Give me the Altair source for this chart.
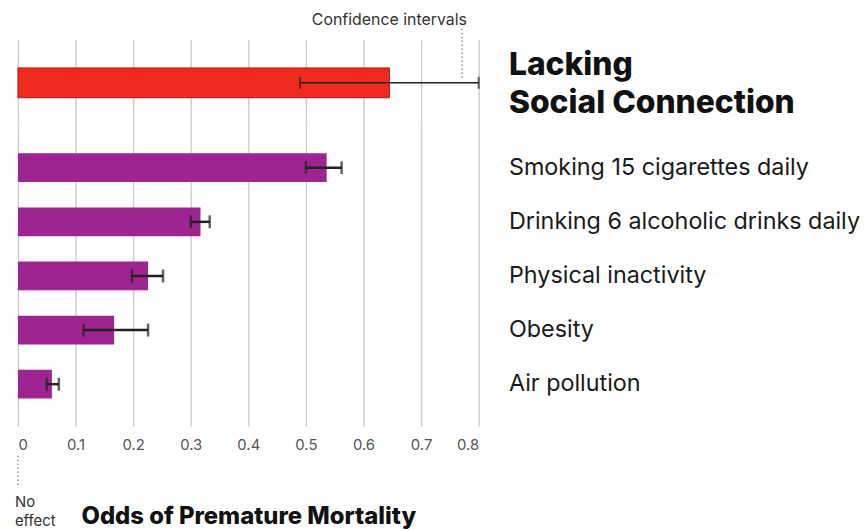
import altair as alt
import pandas as pd

# Data
top_label = ["Lacking|Social Connection"]
top_value = [0.645]
top_lo = [0.49]
top_hi = [0.80]

factors = ["Smoking 15 cigarettes daily", "Drinking 6 alcoholic drinks daily",
           "Physical inactivity", "Obesity", "Air pollution"]
values = [0.536, 0.317, 0.226, 0.167, 0.059]
ci_lo = [0.50, 0.30, 0.198, 0.114, 0.050]
ci_hi = [0.562, 0.333, 0.252, 0.226, 0.071]

ticks = [0, 0.1, 0.2, 0.3, 0.4, 0.5, 0.6, 0.7, 0.8]

FONT = "Inter"
W = 464
H_TOP = 87
H_BOT = 302
xscale = alt.Scale(domain=[0, 0.8], nice=False, zero=True)

top_df = pd.DataFrame({"label": top_label, "value": top_value, "lo": top_lo, "hi": top_hi})
bot_df = pd.DataFrame({"label": factors, "value": values, "lo": ci_lo, "hi": ci_hi})

x_hidden = alt.Axis(values=ticks, labels=False, ticks=False, domain=False, title=None,
                    grid=True, gridColor="#cfcfcf", gridWidth=1.5, minExtent=0, maxExtent=0,
                    labelPadding=0)

# ---- top panel
ytop = alt.Y("label:N", sort=top_label,
             scale=alt.Scale(paddingInner=0, paddingOuter=0),
             axis=alt.Axis(orient="right", title=None, ticks=False, domain=False,
                           labelPadding=30, labelFontSize=32, labelFontWeight=800,
                           labelFont=FONT, labelColor="#111", labelLineHeight=38,
                           labelOffset=-18,
                           labelExpr="split(datum.label, '|')", labelLimit=400))

tbar = alt.Chart(top_df).mark_bar(size=30, color="#F02A1E", stroke="#B51A12", strokeWidth=1).encode(
    x=alt.X("value:Q", scale=xscale, axis=x_hidden), y=ytop)
trule = alt.Chart(top_df).mark_rule(color="#222", strokeWidth=1.5).encode(
    x="lo:Q", x2="hi:Q", y=ytop)
tcap1 = alt.Chart(top_df).mark_tick(color="#222", size=12, thickness=2, orient="vertical").encode(
    x="lo:Q", y=ytop)
tcap2 = alt.Chart(top_df).mark_tick(color="#222", size=12, thickness=2, orient="vertical").encode(
    x="hi:Q", y=ytop)

ann_df = pd.DataFrame({"x": [0.771], "t": ["Confidence intervals"]})
ann_text = alt.Chart(ann_df).mark_text(align="right", baseline="middle", fontSize=16,
                                       font=FONT, color="#333", dx=5).encode(
    x="x:Q", y=alt.value(-20), text="t:N")
ann_rule = alt.Chart(ann_df).mark_rule(color="#888", strokeDash=[1.5, 2.5], strokeWidth=1.3).encode(
    x="x:Q", y=alt.value(-11), y2=alt.value(39))

top = alt.layer(tbar, trule, tcap1, tcap2, ann_rule, ann_text).properties(width=W, height=H_TOP)

# ---- bottom panel
ybot = alt.Y("label:N", sort=factors,
             scale=alt.Scale(paddingInner=0, paddingOuter=0.27),
             axis=alt.Axis(orient="right", title=None, ticks=False, domain=False,
                           labelPadding=30, labelFontSize=23.5, labelFont=FONT,
                           labelColor="#1a1a1a", labelLimit=400))

x_axis = alt.Axis(values=ticks, ticks=False, domain=False, grid=True, gridColor="#cfcfcf",
                  gridWidth=1.5, labelFontSize=15, labelFont=FONT, labelColor="#555",
                  labelPadding=12, labelExpr="datum.value == 0 ? '0' : format(datum.value, '.1f')",
                  title="Odds of Premature Mortality", titleFont=FONT, titleFontSize=24,
                  titleFontWeight=800, titleColor="#111", titlePadding=52)

bbar = alt.Chart(bot_df).mark_bar(size=29, color="#9E2492").encode(
    x=alt.X("value:Q", scale=xscale, axis=x_axis), y=ybot)
brule = alt.Chart(bot_df).mark_rule(color="#222", strokeWidth=2.5).encode(
    x="lo:Q", x2="hi:Q", y=ybot)
bcap1 = alt.Chart(bot_df).mark_tick(color="#222", size=13, thickness=2.5, orient="vertical").encode(
    x="lo:Q", y=ybot)
bcap2 = alt.Chart(bot_df).mark_tick(color="#222", size=13, thickness=2.5, orient="vertical").encode(
    x="hi:Q", y=ybot)

ne_df = pd.DataFrame({"x": [0], "t": [["No", "effect"]]})
ne_text = alt.Chart(ne_df).mark_text(align="left", baseline="top", fontSize=15, font=FONT,
                                     color="#333", dx=-3, lineHeight=19).encode(
    x="x:Q", y=alt.value(H_BOT + 70), text="t")
ne_rule = alt.Chart(ne_df).mark_rule(color="#888", strokeDash=[1.5, 2.5], strokeWidth=1.3).encode(
    x="x:Q", y=alt.value(H_BOT + 30), y2=alt.value(H_BOT + 62))

bottom = alt.layer(bbar, brule, bcap1, bcap2, ne_rule, ne_text).properties(width=W, height=H_BOT)

chart = alt.vconcat(top, bottom, spacing=0, bounds="flush").resolve_scale(x="shared").properties(
    padding={"left": 7, "top": 2, "right": 0, "bottom": 0}, background="white"
).configure_view(stroke=None)

chart.save("out.html", embed_options={"renderer": "svg", "actions": False})
